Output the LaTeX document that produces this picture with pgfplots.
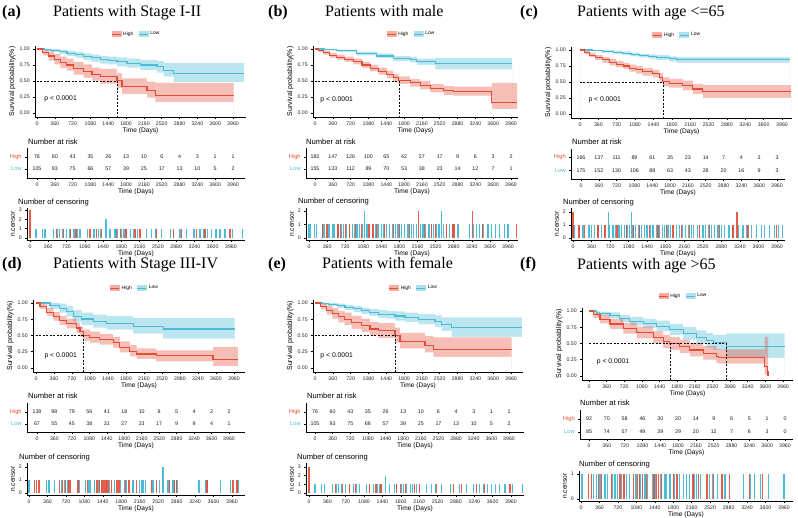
\documentclass[border=0pt]{standalone}
\usepackage{fontspec}
\setmainfont{Liberation Sans}
\newfontfamily\seriff{Liberation Serif}
\usepackage{pgfplots}
\pgfplotsset{compat=1.18}
\usepackage{pgfplotstable}

\definecolor{nred}{HTML}{E64B35}
\definecolor{nblue}{HTML}{4DBBD5}

\newcommand\fTick{\fontsize{5.2}{6}\selectfont}
\newcommand\fLab{\fontsize{6.6}{7}\selectfont}
\newcommand\fNum{\fontsize{5.3}{6}\selectfont}
\newcommand\fHead{\fontsize{7.6}{9}\selectfont}
\newcommand\fP{\fontsize{6.8}{8}\selectfont}
\newcommand\fLeg{\fontsize{4.9}{5}\selectfont}
\newcommand\fTitle{\fontsize{16}{18}\selectfont}

\pgfplotsset{
 legred/.style={legend image code/.code={\fill[nred!45] (0pt,-2.6pt) rectangle (9pt,2.6pt); \draw[nred, line width=1pt] (0pt,0pt) -- (9pt,0pt);}},
 legblue/.style={legend image code/.code={\fill[nblue!45] (0pt,-2.6pt) rectangle (9pt,2.6pt); \draw[nblue, line width=1pt] (0pt,0pt) -- (9pt,0pt);}},
 base/.style={scale only axis, anchor=south west, axis lines*=left,
   axis line style={line width=0.5pt, black}, every tick/.style={black, line width=0.5pt},
   tick align=outside, major tick length=1.8pt,
   tick label style={font=\fTick, text=black!85},
   /pgf/number format/assume math mode=true, /pgf/number format/1000 sep={}, scaled ticks=false,
   xtick={0,360,...,3960}, xlabel={Time (Days)}, label style={font=\fLab},
   xlabel style={yshift=4.8pt}, ylabel style={yshift=-3pt}},
 km/.style={base, ymin=-0.06, ymax=1.05, ytick={0,0.25,0.5,0.75,1},
   yticklabel style={/pgf/number format/fixed, /pgf/number format/fixed zerofill, /pgf/number format/precision=2},
   ylabel={Survival probability(\%)}, ylabel style={font=\fontsize{7}{8}\selectfont},
   legend style={draw=none, fill=none, font=\fLeg, legend columns=2, at={(0.48,1)}, anchor=south, yshift=7pt,
     /tikz/every even column/.append style={column sep=3pt}, inner sep=0pt},
   legend cell align=left},
 risk/.style={base, ytick={1,2}, yticklabels={\textcolor{nblue}{Low},\textcolor{nred}{High}},
   yticklabel style={font=\fontsize{5.7}{6}\selectfont}},
 cens/.style={base, ylabel={n.censor}},
 med/.style={black, dash pattern=on 2pt off 1.5pt, line width=0.5pt, forget plot},
 cb/.style={ycomb, nblue, line width=1.1pt, mark=none, forget plot},
 cr/.style={ycomb, nred, line width=1.1pt, mark=none, forget plot, opacity=0.9},
}

\newcommand\kmplot[2]{%
 \addlegendimage{legred}\addlegendentry{High}
 \addlegendimage{legblue}\addlegendentry{Low}
 \addplot[const plot, fill=nblue, fill opacity=0.38, draw=none, forget plot] table[x=t,y=hi]{#2} \closedcycle;
 \addplot[const plot, fill=white, draw=none, forget plot] table[x=t,y=lo]{#2} \closedcycle;
 \addplot[const plot, fill=nred, fill opacity=0.36, draw=none, forget plot] table[x=t,y=hi]{#1} \closedcycle;
 \addplot[const plot, fill=white, draw=none, forget plot] table[x=t,y=lo]{#1} \closedcycle;
 \addplot[const plot, nblue, line width=1.05pt, forget plot] table[x=t,y=s]{#2};
 \addplot[const plot, nred, line width=1.05pt, forget plot] table[x=t,y=s]{#1};
}
\newcommand\riskrows[1]{%
 \addplot[only marks, mark=none, nodes near coords, point meta=explicit symbolic,
   every node near coord/.append style={font=\fNum, text=black!90, anchor=center}] table[x=t, y expr=2, meta=h]{#1};
 \addplot[only marks, mark=none, nodes near coords, point meta=explicit symbolic,
   every node near coord/.append style={font=\fNum, text=black!90, anchor=center}] table[x=t, y expr=1, meta=l]{#1};
}

% ---------- KM data ----------
\pgfplotstableread{
t s lo hi
0 1.00 1.00 1.00
120 0.95 0.90 1.00
236 0.89 0.82 0.96
350 0.84 0.76 0.92
471 0.79 0.70 0.88
600 0.75 0.66 0.85
740 0.70 0.60 0.80
943 0.65 0.55 0.76
1111 0.60 0.50 0.71
1280 0.57 0.46 0.69
1616 0.50 0.39 0.62
1717 0.41 0.30 0.54
2222 0.35 0.24 0.49
2390 0.28 0.17 0.47
3973 0.28 0.17 0.47
}\kmAH
\pgfplotstableread{
t s lo hi
0 1.00 1.00 1.00
150 0.99 0.97 1.00
270 0.98 0.95 1.00
450 0.96 0.92 0.99
606 0.93 0.89 0.97
780 0.91 0.86 0.95
943 0.88 0.83 0.93
1100 0.86 0.80 0.91
1280 0.83 0.77 0.89
1450 0.82 0.76 0.88
1616 0.80 0.73 0.87
1818 0.78 0.71 0.85
2088 0.75 0.67 0.83
2424 0.72 0.63 0.81
2559 0.67 0.57 0.78
2761 0.62 0.48 0.78
4180 0.62 0.48 0.78
}\kmAL
\pgfplotstableread{
t s lo hi
0 1.00 1.00 1.00
80 0.97 0.95 0.99
169 0.94 0.91 0.97
300 0.90 0.86 0.94
438 0.87 0.83 0.91
600 0.84 0.80 0.88
776 0.80 0.76 0.85
950 0.75 0.70 0.80
1113 0.70 0.65 0.75
1280 0.65 0.60 0.71
1450 0.60 0.54 0.66
1580 0.55 0.49 0.61
1686 0.51 0.45 0.57
1923 0.47 0.41 0.53
2125 0.43 0.37 0.50
2327 0.38 0.32 0.45
2597 0.35 0.28 0.42
2800 0.34 0.27 0.41
3575 0.17 0.06 0.47
4081 0.17 0.06 0.47
}\kmBH
\pgfplotstableread{
t s lo hi
0 1.00 1.00 1.00
200 0.99 0.98 1.00
438 0.97 0.95 0.99
843 0.93 0.90 0.96
1248 0.89 0.86 0.93
1585 0.85 0.81 0.89
1923 0.83 0.79 0.88
2058 0.80 0.75 0.85
2430 0.77 0.68 0.86
3980 0.77 0.68 0.86
}\kmBL
\pgfplotstableread{
t s lo hi
0 1.00 1.00 1.00
90 0.96 0.93 0.99
183 0.92 0.89 0.96
300 0.88 0.84 0.92
445 0.845 0.80 0.89
580 0.81 0.76 0.86
707 0.78 0.73 0.83
850 0.75 0.70 0.80
969 0.715 0.66 0.77
1100 0.69 0.63 0.75
1230 0.663 0.60 0.72
1427 0.627 0.57 0.69
1558 0.575 0.51 0.64
1623 0.50 0.43 0.57
1754 0.48 0.41 0.55
2016 0.445 0.37 0.52
2212 0.39 0.31 0.47
2409 0.345 0.25 0.45
4140 0.345 0.25 0.45
}\kmCH
\pgfplotstableread{
t s lo hi
0 1.00 1.00 1.00
250 0.99 0.98 1.00
445 0.98 0.96 1.00
650 0.965 0.94 0.99
838 0.95 0.92 0.98
1000 0.93 0.90 0.96
1165 0.91 0.88 0.94
1350 0.895 0.86 0.93
1492 0.88 0.84 0.92
1754 0.86 0.82 0.90
1885 0.845 0.80 0.89
4110 0.845 0.80 0.89
}\kmCL
\pgfplotstableread{
t s lo hi
0 1.00 1.00 1.00
80 0.95 0.91 0.99
213 0.86 0.80 0.92
346 0.795 0.73 0.86
479 0.73 0.66 0.80
612 0.68 0.61 0.76
812 0.615 0.54 0.70
880 0.56 0.48 0.64
945 0.50 0.42 0.59
1078 0.475 0.39 0.56
1278 0.436 0.36 0.52
1544 0.395 0.31 0.48
1677 0.32 0.24 0.41
1877 0.26 0.18 0.35
2010 0.215 0.14 0.30
2409 0.19 0.10 0.27
3540 0.128 0.03 0.32
4040 0.128 0.03 0.32
}\kmDH
\pgfplotstableread{
t s lo hi
0 1.00 1.00 1.00
280 0.96 0.91 1.00
479 0.92 0.85 0.99
612 0.87 0.79 0.95
745 0.795 0.71 0.89
912 0.754 0.66 0.85
1145 0.718 0.62 0.82
1411 0.69 0.59 0.80
1943 0.64 0.53 0.77
2542 0.60 0.45 0.77
3973 0.60 0.45 0.77
}\kmDL
\pgfplotstableread{
t s lo hi
0 1.00 1.00 1.00
88 0.94 0.89 0.99
224 0.876 0.81 0.94
428 0.80 0.72 0.88
700 0.73 0.65 0.82
971 0.665 0.58 0.76
1311 0.593 0.50 0.69
1515 0.526 0.43 0.63
1650 0.50 0.40 0.60
1854 0.45 0.35 0.56
2058 0.40 0.30 0.51
2330 0.345 0.25 0.46
2601 0.30 0.20 0.42
2635 0.283 0.19 0.41
3586 0.14 0.02 0.60
3634 0.07 0.00 0.60
3654 0.00 0.00 0.00
}\kmFH
\pgfplotstableread{
t s lo hi
0 1.00 1.00 1.00
156 0.964 0.93 0.99
428 0.933 0.89 0.98
632 0.887 0.83 0.94
835 0.845 0.78 0.91
1107 0.81 0.74 0.88
1379 0.768 0.69 0.85
1650 0.716 0.63 0.80
1922 0.655 0.56 0.75
2194 0.593 0.49 0.70
2398 0.55 0.44 0.66
2533 0.51 0.40 0.63
2805 0.448 0.28 0.655
3994 0.448 0.28 0.655
}\kmFL

% ---------- risk tables ----------
\pgfplotstableread{
t h l
0 76 105
360 60 93
720 43 75
1080 35 66
1440 26 57
1800 13 39
2160 10 25
2520 6 17
2880 4 13
3240 3 10
3600 1 5
3960 1 2
}\riskA
\pgfplotstableread{
t h l
0 182 155
360 147 133
720 126 112
1080 100 89
1440 65 70
1800 42 53
2160 27 38
2520 17 23
2880 9 14
3240 6 12
3600 3 7
3960 2 1
}\riskB
\pgfplotstableread{
t h l
0 166 175
360 137 152
720 111 130
1080 89 106
1440 61 88
1800 35 63
2160 23 43
2520 14 28
2880 7 20
3240 4 16
3600 3 9
3960 3 3
}\riskC
\pgfplotstableread{
t h l
0 138 67
360 98 55
720 79 45
1080 56 38
1440 41 31
1800 18 27
2160 10 23
2520 8 17
2880 5 9
3240 4 9
3600 2 4
3960 2 1
}\riskD
\pgfplotstableread{
t h l
0 92 85
360 70 74
720 58 57
1080 46 49
1440 30 39
1800 20 29
2160 14 20
2520 9 12
2880 6 7
3240 5 6
3600 1 3
3960 0 0
}\riskF

\newcommand\censAblue{\addplot[cb] coordinates {(13,1) (118,1) (250,1) (296,1) (460,1) (539,1) (578,1) (644,1) (722,1) (788,1) (867,1) (932,1) (985,1) (1130,1) (1261,1) (1346,1) (1392,1) (1497,2) (1576,1) (1675,1) (1721,1) (1806,1) (1852,1) (1904,1) (1983,1) (2036,1) (2115,1) (2298,1) (2397,1) (2482,1) (2594,1) (2771,1) (2824,1) (2955,1) (3087,1) (3231,1) (3349,1) (3428,1) (3494,1) (3579,1) (3664,1) (3743,1) (3842,1) (3993,1) (4180,1)};}
\newcommand\censAred{\addplot[cr] coordinates {(0,3) (525,1) (657,1) (801,1) (906,1) (1182,1) (1313,1) (1412,1) (1707,1) (1786,1) (1891,1) (2069,1) (2167,1) (2495,1) (2824,1) (2988,1) (3284,1) (3448,1) (3940,1)};}

\begin{document}
\begin{tikzpicture}
\path[use as bounding box] (0pt,0pt) rectangle (798pt,518pt);

% ================= (a) =================
\begin{axis}[km, at={(35pt,401.2pt)}, width=211pt, height=71pt, xmin=-40, xmax=4222]
\kmplot{\kmAH}{\kmAL}
\addplot[med] coordinates {(0,0.5) (1616,0.5)};
\addplot[med] coordinates {(1616,0.5) (1616,-0.06)};
\node[anchor=west, font=\fP] at (axis cs:80,0.22) {p < 0.0001};
\end{axis}
\begin{axis}[risk, at={(27pt,340pt)}, width=218pt, height=30pt, xmin=-202, xmax=4202, ymin=0.25, ymax=2.75]
\riskrows{\riskA}
\end{axis}
\begin{axis}[cens, at={(27pt,278pt)}, width=218pt, height=32pt, xmin=-59, xmax=4236, ymin=-0.21, ymax=3.2, ytick={0,1,2,3}]
\censAblue
\censAred
\end{axis}

% ================= (b) =================
\begin{axis}[km, at={(313pt,401.2pt)}, width=205pt, height=71pt, xmin=-40, xmax=4101]
\kmplot{\kmBH}{\kmBL}
\addplot[med] coordinates {(0,0.5) (1707,0.5)};
\addplot[med] coordinates {(1707,0.5) (1707,-0.06)};
\node[anchor=west, font=\fP] at (axis cs:40,0.2) {p < 0.0001};
\end{axis}
\begin{axis}[risk, at={(306pt,340pt)}, width=212pt, height=30pt, xmin=-182, xmax=4101, ymin=0.25, ymax=2.75]
\riskrows{\riskB}
\end{axis}
\begin{axis}[cens, at={(306pt,278pt)}, width=212pt, height=32pt, xmin=-60, xmax=4159, ymin=-0.148, ymax=2.22, ytick={0,1,2}]
\addplot[cb] coordinates {(0,1) (27,1) (113,1) (146,1) (279,1) (312,1) (378,1) (411,1) (477,1) (511,1) (577,1) (643,1) (690,1) (743,1) (809,1) (862,1) (909,1) (955,1) (1008,1) (1061,1) (1108,2) (1154,1) (1207,1) (1260,1) (1327,1) (1373,1) (1439,1) (1486,1) (1539,1) (1605,1) (1658,1) (1724,1) (1771,1) (1838,1) (1904,1) (1970,1) (2036,1) (2083,1) (2136,1) (2215,1) (2268,1) (2321,1) (2388,1) (2434,1) (2481,1) (2534,1) (2587,1) (2633,2) (2680,1) (2733,1) (2799,1) (2852,1) (2899,1) (2965,1) (3197,1) (3277,1) (3330,1) (3396,1) (3462,1) (3562,1) (3628,1) (3714,1) (3794,1) (3893,1) (3960,1)};
\addplot[cr] coordinates {(265,1) (358,1) (577,1) (623,1) (729,1) (809,1) (928,1) (1041,1) (1194,1) (1274,1) (1340,1) (1506,1) (1685,1) (1805,1) (2003,1) (2182,2) (2302,1) (2434,1) (2520,1) (2733,1) (2866,1) (2886,1) (3250,2) (3449,1) (4126,1)};
\end{axis}

% ================= (c) =================
\begin{axis}[km, at={(571pt,400.2pt)}, width=221pt, height=71pt, xmin=-176, xmax=4156]
\kmplot{\kmCH}{\kmCL}
\addplot[med] coordinates {(0,0.5) (1623,0.5)};
\addplot[med] coordinates {(1623,0.5) (1623,-0.06)};
\node[anchor=west, font=\fP] at (axis cs:98,0.22) {p < 0.0001};
\end{axis}
\begin{axis}[risk, at={(571pt,339pt)}, width=214pt, height=30pt, xmin=-202, xmax=4122, ymin=0.35, ymax=2.65]
\riskrows{\riskC}
\end{axis}
\begin{axis}[cens, at={(571pt,278pt)}, width=214pt, height=32pt, xmin=-39, xmax=4115, ymin=-0.154, ymax=2.31, ytick={0,1,2}]
\addplot[cb] coordinates {(0,1) (32,1) (129,1) (194,1) (311,1) (356,1) (421,1) (485,1) (550,1) (615,1) (692,2) (712,1) (776,1) (828,1) (893,1) (938,1) (1003,1) (1048,1) (1100,1) (1132,2) (1165,1) (1217,1) (1281,1) (1327,1) (1391,1) (1437,1) (1502,1) (1553,1) (1618,1) (1670,1) (1734,1) (1780,1) (1844,1) (1890,1) (1955,1) (2006,1) (2071,1) (2123,1) (2188,1) (2233,1) (2298,1) (2343,1) (2408,1) (2459,1) (2524,1) (2575,1) (2640,1) (2686,1) (2750,1) (2815,1) (2880,1) (2944,1) (3028,1) (3106,1) (3203,1) (3300,1) (3365,1) (3462,1) (3559,1) (3656,1) (3721,1) (3818,1) (3915,1) (3980,1) (4064,1)};
\addplot[cr] coordinates {(0,2) (116,1) (226,1) (485,1) (615,1) (634,1) (854,1) (1035,1) (1178,1) (1294,1) (1488,1) (1650,1) (1812,1) (1941,1) (2103,1) (2265,1) (2459,1) (2653,1) (2847,1) (3106,1) (3184,2) (3397,1) (3947,1)};
\end{axis}

% ================= (d) =================
\begin{axis}[km, at={(33pt,146.1pt)}, width=212pt, height=72.15pt, xmin=-60, xmax=4180]
\kmplot{\kmDH}{\kmDL}
\addplot[med] coordinates {(0,0.5) (945,0.5)};
\addplot[med] coordinates {(945,0.5) (945,-0.06)};
\node[anchor=west, font=\fP] at (axis cs:100,0.18) {p < 0.0001};
\end{axis}
\begin{axis}[risk, at={(27pt,86pt)}, width=218pt, height=29pt, xmin=-206, xmax=4290, ymin=0.333, ymax=2.75]
\riskrows{\riskD}
\end{axis}
\begin{axis}[cens, at={(27pt,23pt)}, width=218pt, height=32pt, xmin=-39, xmax=4214, ymin=-0.154, ymax=2.31, ytick={0,1,2}]
\addplot[cb] coordinates {(0,1) (13,1) (111,1) (338,1) (390,1) (501,1) (631,1) (696,1) (761,1) (975,1) (1105,1) (1170,1) (1196,1) (1281,1) (1365,1) (1411,1) (1508,1) (1573,1) (1671,1) (1781,1) (1866,1) (1899,1) (2029,1) (2159,1) (2191,1) (2224,1) (2276,1) (2406,1) (2432,1) (2549,1) (2614,2) (2712,1) (2744,1) (2809,1) (2842,1) (2887,1) (3316,1) (3329,1) (3446,1) (3472,1) (3732,1) (3927,1) (4077,1)};
\addplot[cr] coordinates {(111,1) (143,1) (195,1) (598,1) (650,1) (715,1) (780,1) (806,1) (956,1) (1150,1) (1326,1) (1378,1) (1411,1) (1443,1) (1476,1) (1495,1) (1521,1) (1541,1) (1606,1) (1703,1) (1736,1) (1755,1) (1886,1) (1951,1) (2094,1) (2386,1) (2484,1) (2744,1) (2842,1) (2874,1) (3472,1) (3979,1) (4057,1)};
\end{axis}

% ================= (e) =================
\begin{axis}[km, at={(313pt,146.1pt)}, width=210pt, height=72.15pt, xmin=-40, xmax=4202]
\kmplot{\kmAH}{\kmAL}
\addplot[med] coordinates {(0,0.5) (1616,0.5)};
\addplot[med] coordinates {(1616,0.5) (1616,-0.06)};
\node[anchor=west, font=\fP] at (axis cs:40,0.18) {p < 0.0001};
\end{axis}
\begin{axis}[risk, at={(306pt,86pt)}, width=218pt, height=29pt, xmin=-184, xmax=4266, ymin=0.333, ymax=2.75]
\riskrows{\riskA}
\end{axis}
\begin{axis}[cens, at={(306pt,23pt)}, width=218pt, height=32pt, xmin=-59, xmax=4215, ymin=-0.23, ymax=3.46, ytick={0,1,2,3}]
\censAblue
\censAred
\end{axis}

% ================= (f) =================
\begin{axis}[km, at={(582pt,138.1pt)}, width=211pt, height=72.15pt, xmin=-143, xmax=4164]
\kmplot{\kmFH}{\kmFL}
\addplot[med] coordinates {(0,0.5) (2805,0.5)};
\addplot[med] coordinates {(1650,0.5) (1650,-0.06)};
\addplot[med] coordinates {(2805,0.5) (2805,-0.06)};
\node[anchor=west, font=\fP] at (axis cs:88,0.22) {p < 0.0001};
\end{axis}
\begin{axis}[risk, at={(580pt,79pt)}, width=213pt, height=29pt, xmin=-182, xmax=4122, ymin=0.46, ymax=2.69]
\riskrows{\riskF}
\end{axis}
\begin{axis}[cens, at={(579pt,17pt)}, width=214pt, height=30pt, xmin=-39, xmax=4136, ymin=-0.08, ymax=1.12, ytick={0,1}]
\addplot[cb] coordinates {(13,1) (33,1) (241,1) (306,1) (371,1) (468,1) (514,1) (618,1) (663,1) (709,1) (793,1) (891,1) (943,1) (1073,1) (1151,1) (1248,1) (1294,1) (1398,1) (1443,1) (1554,1) (1639,1) (1658,1) (1736,1) (1814,1) (1918,1) (1996,1) (2061,1) (2113,1) (2204,1) (2256,1) (2334,1) (2503,1) (2568,1) (2659,1) (2763,1) (2809,1) (3173,1) (3303,1) (3381,1) (3498,1) (3661,1) (3960,1)};
\addplot[cr] coordinates {(143,1) (208,1) (338,1) (403,1) (598,1) (761,1) (839,1) (1021,1) (1099,1) (1138,1) (1203,1) (1281,1) (1424,1) (1476,1) (1509,1) (1574,1) (1808,1) (1873,1) (2185,1) (2295,1) (2458,1) (2588,1) (2750,1) (2900,1) (3290,1) (3544,1)};
\end{axis}

% ================= titles =================
\node[anchor=base west, font=\fTitle\seriff\bfseries, inner sep=0pt] at (2pt,501pt) {(a)};
\node[anchor=base west, font=\fTitle\seriff, inner sep=0pt] at (53pt,501pt) {Patients with Stage I-II};
\node[anchor=base west, font=\fTitle\seriff\bfseries, inner sep=0pt] at (268pt,501pt) {(b)};
\node[anchor=base west, font=\fTitle\seriff, inner sep=0pt] at (325pt,501pt) {Patients with male};
\node[anchor=base west, font=\fTitle\seriff\bfseries, inner sep=0pt] at (520pt,501pt) {(c)};
\node[anchor=base west, font=\fTitle\seriff, inner sep=0pt] at (577pt,501pt) {Patients with age <=65};
\node[anchor=base west, font=\fTitle\seriff\bfseries, inner sep=0pt] at (2pt,249pt) {(d)};
\node[anchor=base west, font=\fTitle\seriff, inner sep=0pt] at (53pt,249pt) {Patients with Stage III-IV};
\node[anchor=base west, font=\fTitle\seriff\bfseries, inner sep=0pt] at (268pt,249pt) {(e)};
\node[anchor=base west, font=\fTitle\seriff, inner sep=0pt] at (322pt,249pt) {Patients with female};
\node[anchor=base west, font=\fTitle\seriff\bfseries, inner sep=0pt] at (520pt,249pt) {(f)};
\node[anchor=base west, font=\fTitle\seriff, inner sep=0pt] at (577pt,248pt) {Patients with age >65};

% ================= sub headers =================
\node[anchor=west, font=\fHead, inner sep=0pt] at (28pt,376pt) {Number at risk};
\node[anchor=west, font=\fHead, inner sep=0pt] at (18pt,315pt) {Number of censoring};
\node[anchor=west, font=\fHead, inner sep=0pt] at (306pt,376pt) {Number at risk};
\node[anchor=west, font=\fHead, inner sep=0pt] at (298pt,316pt) {Number of censoring};
\node[anchor=west, font=\fHead, inner sep=0pt] at (572pt,376pt) {Number at risk};
\node[anchor=west, font=\fHead, inner sep=0pt] at (563pt,315pt) {Number of censoring};
\node[anchor=west, font=\fHead, inner sep=0pt] at (28pt,122pt) {Number at risk};
\node[anchor=west, font=\fHead, inner sep=0pt] at (19pt,60pt) {Number of censoring};
\node[anchor=west, font=\fHead, inner sep=0pt] at (307pt,122pt) {Number at risk};
\node[anchor=west, font=\fHead, inner sep=0pt] at (297pt,60pt) {Number of censoring};
\node[anchor=west, font=\fHead, inner sep=0pt] at (580pt,115pt) {Number at risk};
\node[anchor=west, font=\fHead, inner sep=0pt] at (579pt,53pt) {Number of censoring};
\end{tikzpicture}
\end{document}
